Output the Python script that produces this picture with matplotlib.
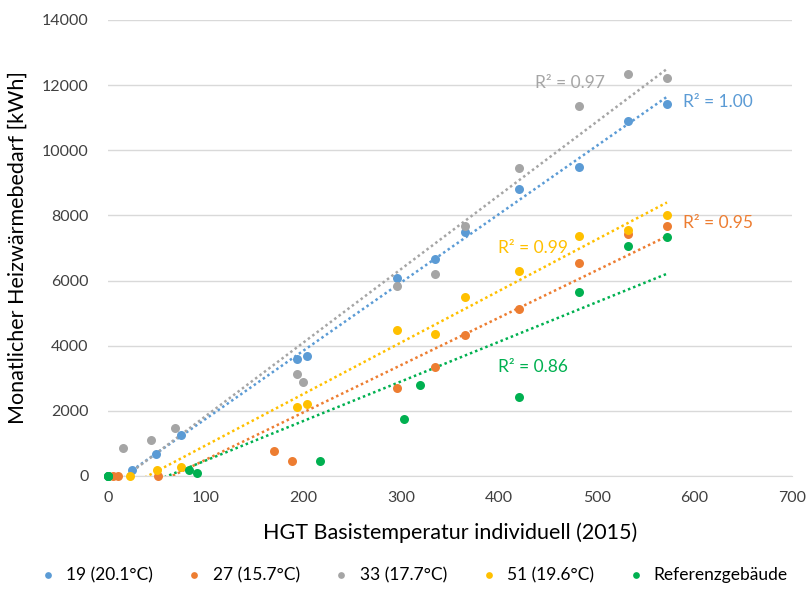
import matplotlib.pyplot as plt
import numpy as np

plt.rcParams['font.family'] = ['Lato', 'DejaVu Sans']

# monthly values
x19 = [24.6, 49, 74.7, 193, 203.7, 296, 334.7, 365.7, 420.7, 482, 531.5, 571.8]
y19 = [184, 666, 1259, 3592, 3675, 6088, 6653, 7482, 8812, 9497, 10909, 11431]
x27 = [5.5, 10.5, 51, 170, 188.6, 296, 334.7, 365.7, 420.7, 482, 531.5, 571.8]
y27 = [0, 0, 10, 777, 460, 2712, 3357, 4329, 5128, 6530, 7421, 7676]
x33 = [15.7, 44, 68.6, 193, 199.6, 296, 334.7, 365.7, 420.7, 482, 531.5, 571.8]
y33 = [870, 1105, 1464, 3122, 2876, 5843, 6212, 7676, 9466, 11351, 12352, 12229]
x51 = [22.5, 49.8, 74.7, 193, 203.7, 296, 334.7, 365.7, 420.7, 482, 531.5, 571.8]
y51 = [10, 184, 276, 2109, 2220, 4483, 4360, 5487, 6294, 7378, 7553, 8014]
xref = [0, 0, 0, 83, 90.7, 217, 302.5, 318.8, 420.7, 482, 531.5, 571.8]
yref = [0, 0, 0, 184, 100, 460, 1760, 2800, 2435, 5649, 7071, 7338]

labels = ['19 (20.1°C)', '27 (15.7°C)', '33 (17.7°C)', '51 (19.6°C)', 'Referenzgebäude']
colors = ['#5B9BD5', '#ED7D31', '#A5A5A5', '#FFC000', '#00B050']
r2_text = ['R² = 1.00', 'R² = 0.95', 'R² = 0.97', 'R² = 0.99', 'R² = 0.86']
r2_pos = [(624, 11480), (624, 7770), (473, 12070), (435, 7000), (435, 3350)]

series = [(x19, y19), (x27, y27), (x33, y33), (x51, y51), (xref, yref)]

fig = plt.figure(figsize=(8.06, 5.97), dpi=100)
ax = fig.add_axes([0.134, 0.2027, 0.849, 0.7638])

for (xs, ys), lab, c, txt, pos in zip(series, labels, colors, r2_text, r2_pos):
    xs = np.array(xs)
    ys = np.array(ys)
    ax.scatter(xs, ys, s=42, color=c, label=lab, zorder=3, clip_on=False, linewidths=0)
    # linear trendline like excel
    k, d = np.polyfit(xs, ys, 1)
    xl = np.array([xs.min(), xs.max()])
    ax.plot(xl, k * xl + d, color=c, lw=1.8, linestyle=(0, (1, 1.2)), zorder=2)
    ax.text(pos[0], pos[1], txt, color=c, fontsize=12.5, ha='center', va='center')

ax.set_xlim(0, 700)
ax.set_ylim(0, 14000)
ax.set_xticks(range(0, 701, 100))
ax.set_yticks(range(0, 14001, 2000))
ax.grid(axis='y', color='#d9d9d9', lw=1)
ax.set_axisbelow(True)
for s in ['left', 'right', 'top']:
    ax.spines[s].set_visible(False)
ax.spines['bottom'].set_color('#d9d9d9')
ax.tick_params(axis='y', length=0, labelsize=11.5, colors='#404040', pad=14)
ax.tick_params(axis='x', length=0, labelsize=11.5, colors='#404040', pad=11)
ax.set_xlabel('HGT Basistemperatur individuell (2015)', fontsize=15.5, color='#000000', labelpad=12)
ax.set_ylabel('Monatlicher Heizwärmebedarf [kWh]', fontsize=15.5, color='#000000', labelpad=10)

ax.legend(loc='center', bbox_to_anchor=(0.44, -0.217), ncol=5, frameon=False,
          fontsize=12.5, handletextpad=0.05, columnspacing=1.4, markerscale=0.75)

plt.savefig('out.png', dpi=100)
